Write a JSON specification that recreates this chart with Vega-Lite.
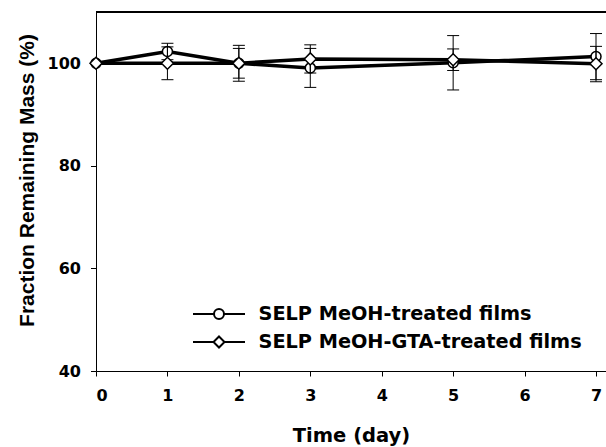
{
  "$schema": "https://vega.github.io/schema/vega-lite/v6.json",
  "width": 510,
  "height": 359,
  "autosize": {"type": "none"},
  "padding": {"left": 96, "top": 12, "right": 0, "bottom": 76},
  "background": "white",
  "config": {
    "view": {"stroke": null},
    "axis": {"grid": false, "domainColor": "black", "tickColor": "black", "labelColor": "black", "titleColor": "black", "domainWidth": 1, "tickWidth": 1}
  },
  "resolve": {"scale": {"shape": "independent"}, "legend": {"shape": "independent"}},
  "data": {
    "values": [
      {"day": 0, "series": "SELP MeOH-treated films", "mean": 100, "lo": null, "hi": null},
      {"day": 1, "series": "SELP MeOH-treated films", "mean": 102.3, "lo": 100.7, "hi": 103.9},
      {"day": 2, "series": "SELP MeOH-treated films", "mean": 100, "lo": 96.5, "hi": 103.5},
      {"day": 3, "series": "SELP MeOH-treated films", "mean": 99.1, "lo": 95.3, "hi": 102.9},
      {"day": 5, "series": "SELP MeOH-treated films", "mean": 100.1, "lo": 94.8, "hi": 105.4},
      {"day": 7, "series": "SELP MeOH-treated films", "mean": 101.3, "lo": 96.8, "hi": 105.8},
      {"day": 0, "series": "SELP MeOH-GTA-treated films", "mean": 100, "lo": null, "hi": null},
      {"day": 1, "series": "SELP MeOH-GTA-treated films", "mean": 100, "lo": 96.8, "hi": 103.2},
      {"day": 2, "series": "SELP MeOH-GTA-treated films", "mean": 100, "lo": 97.1, "hi": 102.9},
      {"day": 3, "series": "SELP MeOH-GTA-treated films", "mean": 100.85, "lo": 98.1, "hi": 103.6},
      {"day": 5, "series": "SELP MeOH-GTA-treated films", "mean": 100.7, "lo": 98.6, "hi": 102.8},
      {"day": 7, "series": "SELP MeOH-GTA-treated films", "mean": 99.9, "lo": 96.4, "hi": 103.3}
    ]
  },
  "encoding": {
    "x": {
      "field": "day", "type": "quantitative",
      "scale": {"domain": [0, 7.14], "nice": false, "zero": false},
      "axis": {
        "title": "Time (day)", "values": [0, 1, 2, 3, 4, 5, 6, 7], "format": "d",
        "tickSize": 5, "labelPadding": 11,
        "labelFont": "DejaVu Sans", "labelFontWeight": "bold", "labelFontSize": 16,
        "titleFont": "DejaVu Sans", "titleFontWeight": "bold", "titleFontSize": 19.5,
        "titleBaseline": "alphabetic", "titleY": 70
      }
    }
  },
  "layer": [
    {
      "mark": {"type": "rule", "color": "black", "strokeWidth": 1},
      "encoding": {"y": {"datum": 110}, "x": null}
    },
    {
      "mark": {"type": "line", "color": "black", "strokeWidth": 3.5},
      "encoding": {
        "y": {
          "field": "mean", "type": "quantitative",
          "scale": {"domain": [40, 110], "nice": false, "zero": false},
          "axis": {
            "title": "Fraction Remaining Mass (%)", "values": [40, 60, 80, 100],
            "tickSize": 5.5, "labelPadding": 10,
            "labelFont": "DejaVu Sans", "labelFontWeight": "bold", "labelFontSize": 16,
            "titleFont": "Liberation Sans", "titleFontWeight": "bold", "titleFontSize": 21,
            "titleAngle": -90, "titleBaseline": "alphabetic", "titleX": -63, "titleY": 168
          }
        },
        "detail": {"field": "series"}
      }
    },
    {
      "transform": [{"filter": "datum.day < 0"}],
      "mark": {"type": "point", "filled": false, "stroke": "black", "strokeWidth": 2, "opacity": 1},
      "encoding": {
        "y": {"field": "mean", "type": "quantitative"},
        "shape": {"field": "series", "type": "nominal",
          "scale": {"domain": ["SELP MeOH-treated films", "SELP MeOH-GTA-treated films"],
                    "range": ["M -2.6 0 L -0.5 0 M 0.5 0 L 2.6 0 M 0.5 0 A 0.5 0.5 0 1 1 -0.5 0 A 0.5 0.5 0 1 1 0.5 0 Z", "M -2.6 0 L -0.55 0 M 0.55 0 L 2.6 0 M 0 -0.55 L 0.55 0 L 0 0.55 L -0.55 0 Z"]},
          "legend": {"title": null, "orient": "none", "legendX": 112, "legendY": 291, "padding": 0,
            "symbolSize": 400, "symbolFillColor": "white", "symbolStrokeColor": "black", "symbolStrokeWidth": 2,
            "labelFont": "DejaVu Sans", "labelFontWeight": "bold", "labelFontSize": 19.3, "labelColor": "black", "labelOffset": 28.5, "labelLimit": 0,
            "rowPadding": 6}}
      }
    },
    {
      "transform": [{"filter": "datum.series === 'SELP MeOH-treated films'"}],
      "mark": {"type": "point", "filled": true, "fill": "white", "stroke": "black", "strokeWidth": 1.5, "opacity": 1, "size": 100, "shape": "circle"},
      "encoding": {"y": {"field": "mean", "type": "quantitative"}}
    },
    {
      "mark": {"type": "rule", "color": "black", "strokeWidth": 1},
      "encoding": {"y": {"field": "lo", "type": "quantitative"}, "y2": {"field": "hi"}}
    },
    {
      "mark": {"type": "tick", "orient": "horizontal", "size": 12, "thickness": 1, "color": "black", "opacity": 1},
      "encoding": {"y": {"field": "lo", "type": "quantitative"}}
    },
    {
      "mark": {"type": "tick", "orient": "horizontal", "size": 12, "thickness": 1, "color": "black", "opacity": 1},
      "encoding": {"y": {"field": "hi", "type": "quantitative"}}
    },
    {
      "transform": [{"filter": "datum.series === 'SELP MeOH-GTA-treated films'"}],
      "mark": {"type": "point", "filled": true, "fill": "white", "stroke": "black", "strokeWidth": 1.5, "opacity": 1, "size": 144, "shape": "diamond"},
      "encoding": {"y": {"field": "mean", "type": "quantitative"}}
    }
  ]
}
